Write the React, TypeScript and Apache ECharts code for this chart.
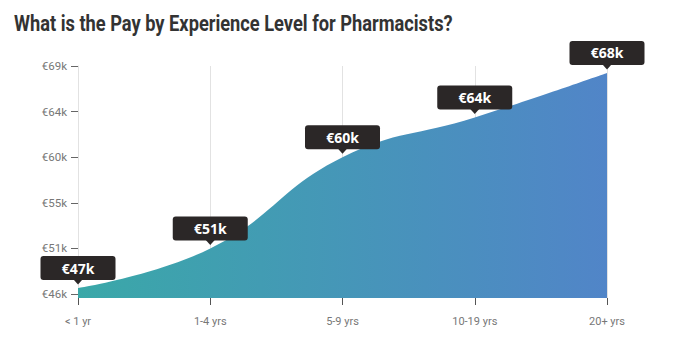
import React, { useEffect, useRef } from "react";
import * as echarts from "echarts";

const categories = ["< 1 yr", "1-4 yrs", "5-9 yrs", "10-19 yrs", "20+ yrs"];
const payValues = [46.6, 50.6, 59.8, 63.8, 68.3];
const payLabels = ["€47k", "€51k", "€60k", "€64k", "€68k"];
const yTickValues = [46, 50.6, 55.2, 59.8, 64.4, 69];
const yTickLabels = ["€46k", "€51k", "€55k", "€60k", "€64k", "€69k"];

export default function App() {
  const ref = useRef<HTMLDivElement>(null);
  useEffect(() => {
    const chart = echarts.init(ref.current!, null, { renderer: "svg" });
    chart.setOption({
      animation: false,
      graphic: [
        {
          type: "text",
          left: 14,
          top: 12,
          scaleX: 0.83,
          style: {
            text: "What is the Pay by Experience Level for Pharmacists?",
            fontFamily: "Roboto",
            fontWeight: "bold",
            fontSize: 22,
            fill: "#333",
          },
        },
      ],
      grid: { left: 78, right: 71, top: 66, bottom: 59 },
      xAxis: {
        type: "category",
        data: categories,
        boundaryGap: false,
        axisLine: { show: false },
        axisTick: { show: true, alignWithLabel: true, length: 7, lineStyle: { color: "#555" } },
        axisLabel: { color: "#777", fontFamily: "Roboto", fontSize: 11, margin: 18 },
        splitLine: { show: true, lineStyle: { color: "#e2e2e2", width: 1 } },
      },
      yAxis: {
        type: "value",
        min: 45.6,
        max: 69,
        axisLine: { show: true, lineStyle: { color: "#e2e2e2" } },
        axisTick: { show: true, inside: false, length: 7, lineStyle: { color: "#666" }, customValues: yTickValues },
        axisLabel: {
          color: "#777",
          fontFamily: "Roboto",
          fontSize: 11.5,
          margin: 11,
          customValues: yTickValues,
          formatter: (v: number) => {
            const i = yTickValues.findIndex((t) => Math.abs(t - v) < 0.01);
            return i >= 0 ? yTickLabels[i] : "";
          },
        },
        splitLine: { show: false },
      },
      series: [
        {
          type: "line",
          data: payValues,
          smooth: 0.45,
          symbol: "none",
          lineStyle: { width: 0 },
          areaStyle: {
            opacity: 1,
            color: new echarts.graphic.LinearGradient(0, 0, 1, 0, [
              { offset: 0, color: "#3aa8a8" },
              { offset: 1, color: "#5185c8" },
            ]),
          },
          z: 2,
        },
        {
          type: "scatter",
          data: payValues,
          symbol: "triangle",
          symbolRotate: 180,
          symbolSize: [9, 5],
          symbolOffset: [0, -6],
          itemStyle: { color: "#2b2727", opacity: 1 },
          z: 5,
          silent: true,
        },
        {
          type: "scatter",
          data: payValues,
          symbolSize: 0,
          itemStyle: { opacity: 1 },
          z: 6,
          silent: true,
          label: {
            show: true,
            position: "top",
            distance: 8,
            formatter: (p: any) => payLabels[p.dataIndex],
            backgroundColor: "#2b2727",
            borderRadius: 3,
            color: "#fff",
            fontFamily: "Open Sans",
            fontWeight: "bold",
            fontSize: 14,
            lineHeight: 18,
            width: 75,
            align: "center",
            padding: [3, 0],
          },
        },
      ],
    });
    return () => chart.dispose();
  }, []);
  return <div ref={ref} style={{ width: 678, height: 357, margin: -8 }} />;
}
